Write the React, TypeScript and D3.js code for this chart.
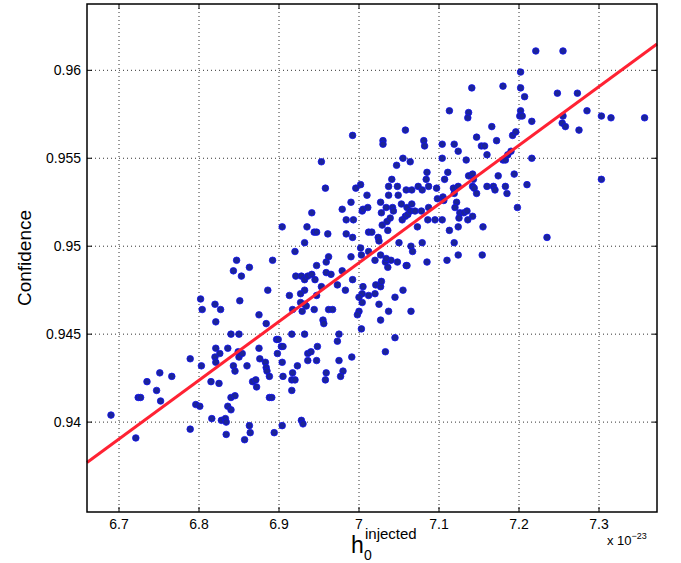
import * as d3 from "d3";

// h0 injected (x 1e-23) vs confidence
const samples: [number, number][] = [
  [6.690, 0.9404], [6.721, 0.9391], [6.724, 0.9414], [6.727, 0.9414], [6.735, 0.9423],
  [6.747, 0.9418], [6.751, 0.9428], [6.752, 0.9412], [6.766, 0.9426], [6.789, 0.9436],
  [6.789, 0.9396], [6.796, 0.9410], [6.801, 0.9409], [6.802, 0.9470], [6.804, 0.9464],
  [6.803, 0.9432], [6.815, 0.9423], [6.816, 0.9402], [6.820, 0.9467], [6.827, 0.9464],
  [6.821, 0.9457], [6.821, 0.9442], [6.820, 0.9437], [6.826, 0.9439], [6.821, 0.9434],
  [6.825, 0.9422], [6.828, 0.9401], [6.833, 0.9402], [6.834, 0.9400], [6.834, 0.9393],
  [6.836, 0.9409], [6.840, 0.9407], [6.840, 0.9414], [6.845, 0.9415], [6.836, 0.9442],
  [6.840, 0.9450], [6.850, 0.9450], [6.843, 0.9486], [6.847, 0.9492], [6.853, 0.9483],
  [6.863, 0.9488], [6.851, 0.9469], [6.843, 0.9432], [6.845, 0.9429], [6.849, 0.9440],
  [6.850, 0.9437], [6.854, 0.9439], [6.860, 0.9432], [6.857, 0.9390], [6.863, 0.9398],
  [6.864, 0.9394], [6.867, 0.9423], [6.871, 0.9424], [6.872, 0.9420], [6.875, 0.9461],
  [6.884, 0.9456], [6.875, 0.9442], [6.876, 0.9436], [6.883, 0.9434], [6.884, 0.9431],
  [6.885, 0.9429], [6.888, 0.9426], [6.886, 0.9475], [6.892, 0.9492], [6.888, 0.9414],
  [6.891, 0.9414], [6.894, 0.9394], [6.897, 0.9447], [6.899, 0.9447], [6.898, 0.9439],
  [6.903, 0.9443], [6.905, 0.9443], [6.904, 0.9434], [6.905, 0.9426], [6.904, 0.9398],
  [6.904, 0.9511], [6.920, 0.9497],
  [6.921, 0.9483], [6.928, 0.9483], [6.932, 0.9481], [6.936, 0.9483], [6.941, 0.9484],
  [6.945, 0.9481], [6.959, 0.9485], [6.965, 0.9484], [6.979, 0.9486], [6.953, 0.9477],
  [6.932, 0.9475], [6.927, 0.9473], [6.913, 0.9472], [6.947, 0.9472], [6.973, 0.9478],
  [6.983, 0.9475], [6.992, 0.9481], [7.005, 0.9477], [7.004, 0.9473], [7.000, 0.9471],
  [7.004, 0.9468], [7.012, 0.9472], [7.020, 0.9473], [7.021, 0.9478], [7.027, 0.9477],
  [7.028, 0.9480], [7.045, 0.9471], [7.055, 0.9475], [7.025, 0.9467], [7.037, 0.9463],
  [7.065, 0.9463], [6.932, 0.9467], [6.927, 0.9468], [6.917, 0.9464], [6.929, 0.9463],
  [6.934, 0.9466], [6.944, 0.9464], [6.962, 0.9464], [6.967, 0.9464], [6.955, 0.9458],
  [6.956, 0.9456], [7.000, 0.9463], [6.998, 0.9461], [7.003, 0.9453], [7.027, 0.9458],
  [6.916, 0.9450], [6.932, 0.9450], [6.975, 0.9450], [6.973, 0.9446], [7.045, 0.9448],
  [7.033, 0.9440], [6.936, 0.9439], [6.940, 0.9440], [6.936, 0.9435], [6.948, 0.9443],
  [6.947, 0.9435], [6.923, 0.9432], [6.917, 0.9428], [6.916, 0.9424], [6.920, 0.9424],
  [6.916, 0.9418], [6.959, 0.9428], [6.958, 0.9424], [6.975, 0.9435], [6.980, 0.9429],
  [6.977, 0.9426], [6.991, 0.9437], [6.928, 0.9401], [6.930, 0.9399],
  [6.992, 0.9563], [6.953, 0.9548], [6.958, 0.9533], [6.941, 0.9519], [6.935, 0.9511],
  [6.944, 0.9508], [6.947, 0.9508], [6.961, 0.9507], [6.932, 0.9502], [6.947, 0.9489],
  [6.959, 0.9491], [6.962, 0.9494], [6.979, 0.9521], [6.984, 0.9515], [6.993, 0.9515],
  [6.984, 0.9507], [6.992, 0.9505], [6.990, 0.9525], [6.996, 0.9533], [7.002, 0.9535],
  [7.010, 0.9529], [7.004, 0.9520], [7.005, 0.9521], [7.011, 0.9522], [7.012, 0.9508],
  [7.016, 0.9508], [7.002, 0.9499], [7.003, 0.9495], [6.990, 0.9494], [7.012, 0.9497],
  [7.020, 0.9492], [7.027, 0.9495], [7.024, 0.9505], [7.025, 0.9503], [7.028, 0.9519],
  [7.027, 0.9525], [7.029, 0.9512], [7.035, 0.9514], [7.036, 0.9509], [7.034, 0.9522],
  [7.039, 0.9516], [7.042, 0.9522], [7.043, 0.9520], [7.037, 0.9529], [7.049, 0.9529],
  [7.037, 0.9534], [7.041, 0.9538], [7.048, 0.9534], [7.047, 0.9546], [7.055, 0.9550],
  [7.064, 0.9548], [7.058, 0.9566], [7.030, 0.9560], [7.030, 0.9558], [7.059, 0.9532],
  [7.066, 0.9532], [7.053, 0.9524], [7.060, 0.9522], [7.054, 0.9515], [7.058, 0.9517],
  [7.061, 0.9518], [7.064, 0.9520], [7.066, 0.9524], [7.070, 0.9520], [7.074, 0.9534],
  [7.079, 0.9532], [7.078, 0.9520], [7.086, 0.9515], [7.095, 0.9515], [7.087, 0.9522],
  [7.084, 0.9538], [7.087, 0.9534], [7.085, 0.9542], [7.081, 0.9560], [7.082, 0.9557],
  [7.097, 0.9533], [7.050, 0.9502], [7.065, 0.9500], [7.067, 0.9497], [7.079, 0.9502],
  [7.048, 0.9491], [7.059, 0.9489], [7.060, 0.9489], [7.040, 0.9492], [7.033, 0.9491],
  [7.036, 0.9488], [7.034, 0.9493], [7.073, 0.9511], [7.085, 0.9491], [7.098, 0.9527],
  [7.110, 0.9492],
  [7.221, 0.9611], [7.255, 0.9611], [7.202, 0.9599], [7.141, 0.9590], [7.180, 0.9591],
  [7.202, 0.9590], [7.207, 0.9585], [7.248, 0.9587], [7.273, 0.9587], [7.113, 0.9577],
  [7.137, 0.9576], [7.136, 0.9573], [7.202, 0.9577], [7.201, 0.9574], [7.204, 0.9574],
  [7.216, 0.9571], [7.255, 0.9574], [7.254, 0.9570], [7.258, 0.9568], [7.285, 0.9577],
  [7.275, 0.9566], [7.303, 0.9574], [7.315, 0.9573], [7.357, 0.9573], [7.166, 0.9568],
  [7.147, 0.9562], [7.172, 0.9560], [7.192, 0.9563], [7.196, 0.9565], [7.153, 0.9557],
  [7.157, 0.9557], [7.160, 0.9552], [7.104, 0.9558], [7.119, 0.9558], [7.124, 0.9554],
  [7.104, 0.9550], [7.134, 0.9549], [7.180, 0.9549], [7.183, 0.9549], [7.186, 0.9552],
  [7.190, 0.9554], [7.216, 0.9550], [7.111, 0.9542], [7.107, 0.9538], [7.137, 0.9540],
  [7.142, 0.9541], [7.143, 0.9538], [7.174, 0.9540], [7.194, 0.9541], [7.118, 0.9533],
  [7.124, 0.9534], [7.142, 0.9534], [7.144, 0.9533], [7.147, 0.9530], [7.160, 0.9534],
  [7.168, 0.9534], [7.170, 0.9532], [7.183, 0.9534], [7.185, 0.9530], [7.210, 0.9535],
  [7.303, 0.9538], [7.105, 0.9528], [7.106, 0.9526], [7.119, 0.9530], [7.122, 0.9525],
  [7.120, 0.9522], [7.126, 0.9519], [7.131, 0.9519], [7.135, 0.9520], [7.142, 0.9517],
  [7.125, 0.9516], [7.136, 0.9515], [7.113, 0.9509], [7.124, 0.9511], [7.155, 0.9511],
  [7.198, 0.9522], [7.104, 0.9515], [7.119, 0.9502], [7.124, 0.9495], [7.154, 0.9495],
  [7.235, 0.9505],
];

// least-squares fit line, endpoints at the axis edges
const fitX = [6.66, 7.3725];
const fitY = [0.9377, 0.9615];

const xTicks = [6.7, 6.8, 6.9, 7.0, 7.1, 7.2, 7.3];
const yTicks = [0.94, 0.945, 0.95, 0.955, 0.96];

const W = 681;
const H = 563;
const margin = { top: 4, right: 24, bottom: 51, left: 87 };
const font = "Liberation Sans, Arial, Helvetica, sans-serif";

export default function App() {
  const x = d3.scaleLinear().domain([6.66, 7.3725]).range([margin.left, W - margin.right]);
  const y = d3.scaleLinear().domain([0.93489, 0.96377]).range([H - margin.bottom, margin.top]);
  const [x0, x1] = x.range();
  const [y0, y1] = y.range();
  const line = d3
    .line<number>()
    .x((d) => x(fitX[d]))
    .y((d) => y(fitY[d]));
  const tk = 5;

  return (
    <div style={{ position: "fixed", left: 0, top: 0 }}>
      <svg width={W} height={H} style={{ display: "block", background: "#fff" }}>
        {xTicks.map((t) => (
          <g key={"x" + t}>
            <line x1={x(t)} x2={x(t)} y1={y1} y2={y0} stroke="#333" strokeDasharray="1,3" />
            <line x1={x(t)} x2={x(t)} y1={y0} y2={y0 - tk} stroke="#000" />
            <line x1={x(t)} x2={x(t)} y1={y1} y2={y1 + tk} stroke="#000" />
            <text x={x(t)} y={y0 + 17} textAnchor="middle" fontFamily={font} fontSize={14}>
              {String(+t.toFixed(1))}
            </text>
          </g>
        ))}
        {yTicks.map((t) => (
          <g key={"y" + t}>
            <line x1={x0} x2={x1} y1={y(t)} y2={y(t)} stroke="#333" strokeDasharray="1,3" />
            <line x1={x0} x2={x0 + tk} y1={y(t)} y2={y(t)} stroke="#000" />
            <line x1={x1} x2={x1 - tk} y1={y(t)} y2={y(t)} stroke="#000" />
            <text x={x0 - 6} y={y(t) + 5} textAnchor="end" fontFamily={font} fontSize={14}>
              {String(+t.toFixed(3))}
            </text>
          </g>
        ))}
        <g>
          {samples.map(([h, c], i) => (
            <circle key={i} cx={x(h)} cy={y(c)} r={3.3} fill="#1b2499" stroke="#1010f0" strokeWidth={0.8} />
          ))}
        </g>
        <path d={line([0, 1]) || ""} stroke="#ff2233" strokeWidth={3} fill="none" />
        <rect x={x0} y={y1} width={x1 - x0} height={y0 - y1} fill="none" stroke="#000" strokeWidth={1.5} />
        <text x={x1 - 50} y={y0 + 33} fontFamily={font} fontSize={13}>
          x 10
          <tspan dy={-6} fontSize={9}>−23</tspan>
        </text>
        <text x={351} y={553} fontFamily={font} fontSize={23}>
          h
        </text>
        <text x={364} y={560} fontFamily={font} fontSize={14}>
          0
        </text>
        <text x={365} y={539} fontFamily={font} fontSize={15}>
          injected
        </text>
        <text
          transform={`translate(31,${(y0 + y1) / 2}) rotate(-90)`}
          textAnchor="middle"
          fontFamily={font}
          fontSize={19}
        >
          Confidence
        </text>
      </svg>
    </div>
  );
}
